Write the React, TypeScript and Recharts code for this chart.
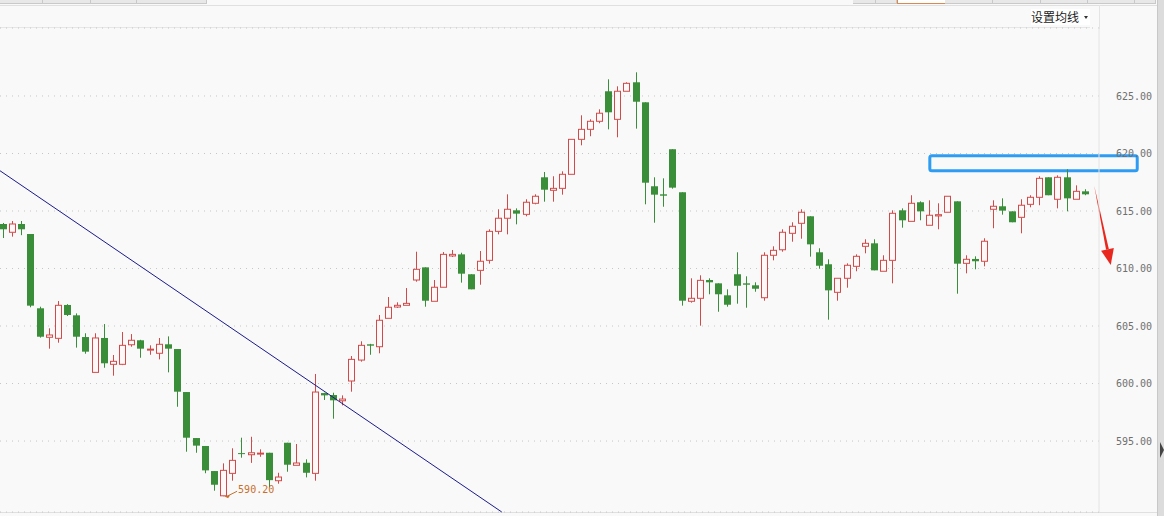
import {
  ComposedChart, Bar, XAxis, YAxis, CartesianGrid,
  ReferenceLine, ReferenceArea, ReferenceDot,
} from 'recharts'

// daily candles (index = bar number from the left)
const OPEN = [
  613.87, 613.15, 613.87, 613.0, 606.54, 604.02, 603.93, 606.83, 605.93, 604.04,
  600.97, 603.96, 601.67, 601.67, 603.37, 603.76, 602.95, 602.63, 603.41, 603.0,
  599.26, 595.26, 594.57, 592.39, 590.24, 592.19, 593.95, 593.81, 593.9, 593.98,
  591.55, 594.85, 592.89, 593.11, 592.19, 599.17, 599.0, 598.5, 600.22, 602.04,
  603.41, 603.2, 605.67, 606.65, 606.8, 609.0, 610.1, 607.15, 608.37, 611.09,
  611.23, 609.5, 609.84, 610.71, 613.23, 614.37, 615.06, 614.71, 615.67, 617.93,
  616.8, 616.97, 618.19, 621.23, 622.1, 622.8, 625.41, 622.97, 625.41, 626.19,
  624.45, 617.15, 616.45, 620.37, 616.63, 607.15, 607.41, 609.0, 608.71, 607.67,
  609.5, 608.71, 608.54, 607.46, 611.15, 611.63, 613.06, 613.93, 614.54, 611.41,
  610.37, 607.93, 609.15, 610.19, 611.93, 612.19, 609.76, 610.71, 615.06, 614.1,
  615.76, 613.76, 614.57, 614.89, 615.84, 610.45, 610.83, 610.63, 615.15, 615.41,
  614.97, 614.45, 615.58, 616.19, 617.93, 616.02, 617.93, 616.02, 616.71,
]
const HIGH = [
  613.96, 614.13, 614.13, 613.0, 606.68, 604.8, 607.17, 606.9, 606.1, 604.37,
  604.37, 605.17, 602.48, 604.48, 604.3, 603.8, 603.32, 603.96, 604.1, 603.0,
  599.26, 595.26, 594.57, 592.39, 593.06, 594.37, 595.29, 595.37, 594.28, 593.98,
  592.24, 594.85, 594.74, 593.41, 600.83, 599.2, 599.2, 598.97, 602.39, 603.67,
  603.45, 605.96, 607.52, 607.06, 608.3, 611.46, 610.1, 609.0, 611.43, 611.61,
  611.37, 609.5, 611.52, 613.41, 615.15, 616.45, 615.23, 616.02, 616.45, 618.39,
  618.02, 618.45, 621.23, 623.32, 622.97, 623.84, 626.45, 625.84, 626.19, 627.06,
  624.45, 617.93, 617.84, 620.37, 616.63, 609.15, 609.41, 609.15, 608.71, 608.19,
  611.41, 609.32, 608.8, 611.41, 611.93, 613.41, 614.02, 615.15, 614.54, 611.76,
  610.8, 609.15, 610.45, 611.23, 612.54, 612.54, 611.15, 615.06, 615.23, 616.37,
  615.84, 615.93, 615.67, 616.28, 615.84, 611.15, 611.06, 612.63, 615.93, 616.1,
  614.97, 616.02, 616.37, 618.02, 617.93, 618.1, 618.63, 617.23, 616.89,
]
const LOW = [
  612.65, 612.77, 612.9, 606.63, 603.99, 603.03, 603.55, 605.87, 603.12, 602.59,
  600.97, 601.37, 600.68, 601.6, 603.2, 602.24, 602.5, 602.1, 600.97, 597.98,
  594.07, 593.98, 592.2, 590.68, 590.2, 591.55, 593.55, 593.1, 593.63, 590.97,
  591.29, 592.33, 592.89, 591.84, 591.55, 598.57, 596.94, 598.1, 599.29, 601.9,
  602.5, 602.63, 605.67, 606.57, 606.8, 608.85, 606.68, 607.15, 608.37, 611.0,
  608.77, 608.19, 608.59, 610.42, 612.97, 612.97, 613.84, 614.54, 615.58, 615.81,
  615.81, 616.42, 618.19, 620.71, 621.5, 622.63, 622.1, 621.41, 625.41, 622.16,
  615.58, 613.98, 615.37, 616.94, 606.77, 607.03, 605.03, 607.76, 606.24, 606.68,
  606.94, 606.59, 607.98, 607.2, 610.71, 611.46, 612.33, 612.59, 611.03, 609.98,
  605.55, 607.2, 608.33, 609.76, 611.32, 609.84, 609.76, 608.71, 613.55, 614.1,
  614.19, 613.76, 613.41, 614.89, 607.81, 609.58, 609.93, 610.19, 613.5, 614.68,
  614.02, 613.06, 615.32, 615.5, 616.37, 615.23, 614.97, 616.02, 616.37,
]
const CLOSE = [
  613.41, 613.87, 613.41, 606.77, 604.07, 604.22, 606.8, 605.96, 604.07, 602.77,
  603.96, 601.76, 601.93, 603.32, 603.76, 603.03, 602.99, 603.41, 603.03, 599.29,
  595.29, 594.6, 592.45, 591.2, 592.45, 593.32, 593.9, 593.98, 593.95, 591.6,
  591.87, 592.94, 593.09, 592.24, 599.26, 598.97, 598.54, 598.65, 602.1, 603.32,
  603.29, 605.5, 606.63, 606.8, 606.97, 609.93, 607.2, 608.37, 611.23, 611.23,
  609.55, 608.19, 610.63, 613.23, 614.37, 615.15, 614.77, 615.76, 616.28, 616.85,
  616.97, 618.19, 621.23, 622.1, 622.8, 623.5, 623.58, 625.41, 626.1, 624.5,
  617.46, 616.42, 616.33, 617.03, 607.2, 607.41, 608.97, 608.8, 607.76, 606.85,
  608.5, 608.59, 608.24, 611.15, 611.58, 613.15, 613.67, 614.89, 612.1, 610.24,
  608.1, 609.15, 610.28, 611.06, 612.19, 609.84, 610.71, 614.8, 614.19, 615.67,
  614.97, 614.63, 614.68, 616.28, 610.42, 610.8, 610.63, 612.37, 615.41, 615.03,
  614.02, 615.5, 616.19, 617.84, 616.37, 617.93, 616.1, 616.71, 616.45,
]

const Y_TICKS = [595, 600, 605, 610, 615, 620, 625]
const X_DOMAIN: [number, number] = [-0.33, 119.52]
const Y_DOMAIN: [number, number] = [588.83, 630.91]

// hand-drawn annotations, in data coordinates
const TREND = [{ x: -0.33, y: 618.5 }, { x: 54.39, y: 588.83 }]
const ARROW = [{ x: 118.98, y: 617.26 }, { x: 120.8, y: 610.3 }]
const BOX = { x1: 101.07, x2: 123.69, y1: 618.5, y2: 619.8 }
const LOW_MARK = { x: 24, y: 590.2, label: '590.20' }

const UP = '#d04a4a'
const DOWN = '#3a8e3a'
const MARK = '#c8702a'

const data = OPEN.map((o, i) => ({ i, o, h: HIGH[i], l: LOW[i], c: CLOSE[i] }))

function Candle(props: any) {
  const { x, y, width, height, payload } = props
  const { o, h, l, c } = payload
  const k = h > l ? height / (h - l) : 0
  const cx = Math.round(x + width / 2) + 0.5
  const top = y + (h - Math.max(o, c)) * k
  const bot = Math.max(y + (h - Math.min(o, c)) * k, top + 1)
  if (c >= o) {
    return (
      <g>
        <line x1={cx} x2={cx} y1={y} y2={top} stroke={UP} />
        <line x1={cx} x2={cx} y1={bot} y2={y + height} stroke={UP} />
        <rect x={cx - 3} y={top} width={6} height={bot - top} fill="#fff8f8" stroke={UP} />
      </g>
    )
  }
  return (
    <g>
      <line x1={cx} x2={cx} y1={y} y2={y + height} stroke={DOWN} />
      <rect x={cx - 3.5} y={top} width={7} height={bot - top} fill={DOWN} />
    </g>
  )
}

function Arrow(p: any) {
  const { x1, y1, x2, y2 } = p
  const dx = x2 - x1, dy = y2 - y1
  const len = Math.hypot(dx, dy)
  const ux = dx / len, uy = dy / len
  const hl = 16, hw = 6.5
  const bx = x2 - ux * hl, by = y2 - uy * hl
  return (
    <g>
      <polygon
        points={`${x1},${y1} ${bx - uy * 1.4},${by + ux * 1.4} ${bx + uy * 1.4},${by - ux * 1.4}`}
        fill="#e8281e"
      />
      <polygon
        points={`${x2},${y2} ${bx - uy * hw},${by + ux * hw} ${bx + uy * hw},${by - ux * hw}`}
        fill="#e8281e"
      />
    </g>
  )
}

function LowMark(p: any) {
  const { cx, cy } = p
  return (
    <g>
      <path d={`M${cx + 1},${cy} l6,-1 l-2,3 z`} fill={MARK} />
      <line x1={cx + 4} y1={cy} x2={cx + 14} y2={cy - 5} stroke={MARK} />
      <text x={cx + 15} y={cy - 3} fill={MARK} fontSize={10} fontFamily="DejaVu Sans Mono">
        {LOW_MARK.label}
      </text>
    </g>
  )
}

const TAB_LEFT = [0, 43, 91, 137, 207]
const TAB_RIGHT = [853, 876, 897, 945, 993, 1041, 1088, 1135, 1156]

export default function App() {
  return (
    <div style={{
      position: 'absolute', left: 0, top: 0, width: 1164, height: 516,
      background: '#f9f9f9', overflow: 'hidden', fontFamily: '"Noto Sans CJK SC", sans-serif',
    }}>
      {/* ── tab strip + header ─────────────────────────────────────── */}
      {TAB_LEFT.slice(0, -1).map((x, k) => (
        <div key={'l' + k} style={{
          position: 'absolute', left: x, top: 0, width: TAB_LEFT[k + 1] - x - 1, height: 3,
          background: '#e8e8e8', borderRight: '1px solid #c9c9c9', borderBottom: '1px solid #c9c9c9',
        }} />
      ))}
      {TAB_RIGHT.slice(0, -1).map((x, k) => (
        <div key={'r' + k} style={{
          position: 'absolute', left: x, top: 0, width: TAB_RIGHT[k + 1] - x - 1, height: 3,
          background: k === 2 ? '#fff' : '#e8e8e8',
          borderRight: `1px solid ${k === 2 ? '#d88a50' : '#c9c9c9'}`,
          borderBottom: `1px solid ${k === 2 ? '#d88a50' : '#c9c9c9'}`,
          borderLeft: k === 2 ? '1px solid #d88a50' : undefined,
        }} />
      ))}
      <div style={{ position: 'absolute', left: 0, top: 5, width: 1157, height: 1, background: '#e0e0e0' }} />
      <div style={{ position: 'absolute', left: 0, top: 27, width: 1090, height: 1, background: '#e6e6e6' }} />
      <div style={{ position: 'absolute', left: 1099, top: 5, width: 1, height: 24, background: '#e4e4e4' }} />
      <div style={{ position: 'absolute', left: 0, top: 512, width: 1157, height: 1, background: '#e0e0e0' }} />
      <div style={{
        position: 'absolute', left: 1031, top: 9, width: 59, height: 16, background: '#fff',
        fontSize: 12, lineHeight: '16px', color: '#222', whiteSpace: 'nowrap',
      }}>
        设置均线
        <span style={{
          position: 'absolute', left: 53, top: 7, width: 0, height: 0,
          borderLeft: '2.5px solid transparent', borderRight: '2.5px solid transparent',
          borderTop: '3px solid #333',
        }} />
      </div>
      <div style={{ position: 'absolute', left: 1157, top: 0, width: 7, height: 516, background: '#dcdcdc', borderLeft: '1px solid #c8c8c8' }} />
      <div style={{
        position: 'absolute', left: 1160, top: 442, width: 0, height: 0,
        borderTop: '8px solid transparent', borderBottom: '8px solid transparent', borderLeft: '4px solid #444',
      }} />

      {/* ── chart ─────────────────────────────────────────────────── */}
      <div style={{ position: 'absolute', left: 0, top: 0 }}>
        <ComposedChart width={1164} height={516} data={data} margin={{ top: 28, right: 0, bottom: 4, left: 0 }}>
          <CartesianGrid vertical={false} stroke="#c6c6c6" strokeDasharray="1 5" />
          <XAxis dataKey="i" type="number" domain={X_DOMAIN} allowDataOverflow hide />
          <YAxis
            orientation="right"
            width={65}
            domain={Y_DOMAIN}
            allowDataOverflow
            ticks={Y_TICKS}
            tickFormatter={(v) => Number(v).toFixed(2)}
            tickLine={false}
            tickMargin={11}
            axisLine={{ stroke: '#e4e4e4' }}
            tick={{ fill: '#707070', fontSize: 10, fontFamily: 'DejaVu Sans Mono' }}
          />
          <Bar dataKey={(d: any) => [d.l, d.h]} barSize={7} shape={<Candle />} isAnimationActive={false} />
          <ReferenceLine segment={TREND} stroke="#1a1a8a" strokeWidth={1} ifOverflow="visible" />
          <ReferenceLine segment={ARROW} ifOverflow="visible" shape={(p: any) => <Arrow {...p} />} />
          <ReferenceArea
            x1={BOX.x1} x2={BOX.x2} y1={BOX.y1} y2={BOX.y2}
            ifOverflow="visible" fill="none" fillOpacity={0}
            stroke="#2e9cf2" strokeWidth={3} strokeOpacity={1} radius={2}
          />
          <ReferenceDot x={LOW_MARK.x} y={LOW_MARK.y} ifOverflow="visible" shape={(p: any) => <LowMark {...p} />} />
        </ComposedChart>
      </div>
    </div>
  )
}
